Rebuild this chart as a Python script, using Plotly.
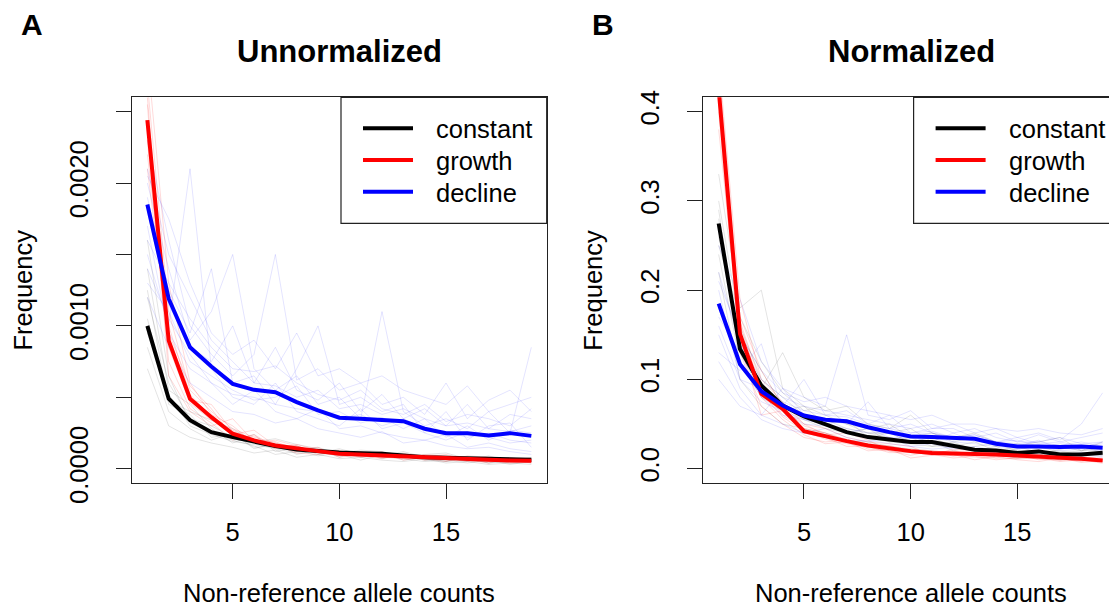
import plotly.graph_objects as go

W, H = 1117, 609
OFF = 8  # the page body adds an 8px margin around the figure
FONT = "Liberation Sans, Arial, Helvetica, sans-serif"

counts = list(range(1, 20))

# ---- panel A: unnormalized, mean curves
raw_constant = [0.00100, 0.00049, 0.00034, 0.000256, 0.000221, 0.000186, 0.000158, 0.000135, 0.000123, 0.000114,
                0.000109, 0.000105, 0.000093, 0.000081, 0.000077, 0.000072, 0.000066, 0.000062, 0.000062]
raw_growth = [0.00244, 0.000897, 0.00049, 0.000361, 0.000245, 0.000198, 0.000163, 0.00014, 0.000123, 0.000105,
              0.000098, 0.000095, 0.00009, 0.00008, 0.000073, 0.00007, 0.000063, 0.000058, 0.000056]
raw_decline = [0.00185, 0.00119, 0.00085, 0.000715, 0.000594, 0.000552, 0.000536, 0.000466, 0.000408, 0.000357,
               0.00035, 0.000343, 0.000333, 0.00028, 0.000249, 0.000249, 0.000233, 0.000249, 0.00023]

# ---- panel A: individual replicates (faint)
raw_constant_reps = [
    [0.00120, 0.00060, 0.00035, 0.00030, 0.00022, 0.00020, 0.00015, 0.00016, 0.00010, 0.00012, 0.00009, 0.00011, 0.00008, 0.00007, 0.00009, 0.00006, 0.00005, 0.00007, 0.00004],
    [0.00085, 0.00040, 0.00028, 0.00020, 0.00025, 0.00014, 0.00018, 0.00010, 0.00013, 0.00008, 0.00012, 0.00007, 0.00010, 0.00006, 0.00005, 0.00008, 0.00004, 0.00006, 0.00005],
    [0.00140, 0.00055, 0.00045, 0.00028, 0.00018, 0.00024, 0.00012, 0.00015, 0.00011, 0.00014, 0.00010, 0.00009, 0.00012, 0.00008, 0.00007, 0.00006, 0.00009, 0.00005, 0.00008],
    [0.00070, 0.00030, 0.00022, 0.00018, 0.00015, 0.00011, 0.00013, 0.00008, 0.00010, 0.00007, 0.00008, 0.00006, 0.00005, 0.00007, 0.00004, 0.00005, 0.00003, 0.00004, 0.00003],
    [0.00105, 0.00048, 0.00040, 0.00034, 0.00028, 0.00019, 0.00021, 0.00017, 0.00014, 0.00011, 0.00013, 0.00012, 0.00009, 0.00010, 0.00011, 0.00007, 0.00008, 0.00006, 0.00007],
    [0.00160, 0.00065, 0.00032, 0.00025, 0.00020, 0.00016, 0.00010, 0.00012, 0.00015, 0.00010, 0.00006, 0.00010, 0.00007, 0.00005, 0.00006, 0.00004, 0.00006, 0.00003, 0.00005],
    [0.00095, 0.00052, 0.00030, 0.00024, 0.00019, 0.00017, 0.00014, 0.00011, 0.00012, 0.00009, 0.00010, 0.00008, 0.00009, 0.00006, 0.00007, 0.00005, 0.00006, 0.00004, 0.00005],
    [0.00125, 0.00045, 0.00038, 0.00022, 0.00024, 0.00015, 0.00016, 0.00013, 0.00009, 0.00011, 0.00008, 0.00010, 0.00006, 0.00008, 0.00005, 0.00007, 0.00004, 0.00005, 0.00006],
]
raw_growth_reps = [
    [0.00270, 0.00110, 0.00055, 0.00040, 0.00028, 0.00022, 0.00018, 0.00015, 0.00012, 0.00011, 0.00010, 0.00009, 0.00010, 0.00008, 0.00007, 0.00006, 0.00007, 0.00005, 0.00006],
    [0.00230, 0.00075, 0.00042, 0.00032, 0.00020, 0.00024, 0.00015, 0.00012, 0.00014, 0.00009, 0.00011, 0.00008, 0.00007, 0.00009, 0.00006, 0.00008, 0.00005, 0.00006, 0.00004],
    [0.00290, 0.00130, 0.00060, 0.00038, 0.00030, 0.00018, 0.00020, 0.00016, 0.00011, 0.00013, 0.00008, 0.00010, 0.00009, 0.00006, 0.00008, 0.00005, 0.00006, 0.00004, 0.00005],
    [0.00210, 0.00090, 0.00048, 0.00045, 0.00026, 0.00021, 0.00014, 0.00017, 0.00013, 0.00010, 0.00012, 0.00011, 0.00008, 0.00010, 0.00009, 0.00007, 0.00006, 0.00007, 0.00006],
    [0.00255, 0.00065, 0.00040, 0.00030, 0.00035, 0.00019, 0.00017, 0.00011, 0.00010, 0.00012, 0.00009, 0.00007, 0.00011, 0.00007, 0.00005, 0.00009, 0.00008, 0.00005, 0.00007],
    [0.00240, 0.00100, 0.00052, 0.00036, 0.00024, 0.00027, 0.00016, 0.00014, 0.00015, 0.00008, 0.00010, 0.00012, 0.00006, 0.00008, 0.00010, 0.00006, 0.00004, 0.00008, 0.00005],
    [0.00260, 0.00085, 0.00046, 0.00034, 0.00027, 0.00020, 0.00019, 0.00013, 0.00012, 0.00011, 0.00009, 0.00010, 0.00008, 0.00007, 0.00008, 0.00006, 0.00007, 0.00006, 0.00005],
    [0.00220, 0.00095, 0.00058, 0.00042, 0.00022, 0.00023, 0.00015, 0.00016, 0.00011, 0.00010, 0.00011, 0.00008, 0.00009, 0.00008, 0.00006, 0.00007, 0.00005, 0.00006, 0.00005],
]
raw_decline_reps = [
    [0.00210, 0.00150, 0.00120, 0.00090, 0.00075, 0.00060, 0.00085, 0.00055, 0.00048, 0.00060, 0.00040, 0.00052, 0.00035, 0.00042, 0.00030, 0.00045, 0.00028, 0.00038, 0.00035],
    [0.00150, 0.00100, 0.00210, 0.00070, 0.00050, 0.00045, 0.00060, 0.00040, 0.00035, 0.00030, 0.00042, 0.00028, 0.00032, 0.00025, 0.00020, 0.00026, 0.00022, 0.00018, 0.00020],
    [0.00200, 0.00140, 0.00090, 0.00110, 0.00150, 0.00070, 0.00055, 0.00065, 0.00045, 0.00050, 0.00035, 0.00110, 0.00040, 0.00030, 0.00035, 0.00028, 0.00040, 0.00025, 0.00085],
    [0.00170, 0.00095, 0.00070, 0.00060, 0.00045, 0.00055, 0.00040, 0.00035, 0.00042, 0.00028, 0.00030, 0.00025, 0.00022, 0.00020, 0.00024, 0.00015, 0.00018, 0.00014, 0.00012],
    [0.00230, 0.00160, 0.00100, 0.00080, 0.00065, 0.00080, 0.00150, 0.00062, 0.00070, 0.00055, 0.00060, 0.00045, 0.00050, 0.00038, 0.00060, 0.00035, 0.00048, 0.00055, 0.00040],
    [0.00130, 0.00110, 0.00075, 0.00065, 0.00055, 0.00048, 0.00050, 0.00058, 0.00038, 0.00040, 0.00032, 0.00036, 0.00028, 0.00035, 0.00022, 0.00030, 0.00020, 0.00027, 0.00025],
    [0.00190, 0.00125, 0.00095, 0.00140, 0.00060, 0.00065, 0.00045, 0.00070, 0.00100, 0.00045, 0.00050, 0.00040, 0.00045, 0.00025, 0.00040, 0.00020, 0.00030, 0.00032, 0.00015],
    [0.00160, 0.00130, 0.00105, 0.00085, 0.00070, 0.00068, 0.00072, 0.00060, 0.00052, 0.00048, 0.00055, 0.00042, 0.00038, 0.00045, 0.00033, 0.00038, 0.00035, 0.00030, 0.00042],
    [0.00120, 0.00085, 0.00060, 0.00050, 0.00040, 0.00038, 0.00032, 0.00035, 0.00028, 0.00025, 0.00022, 0.00026, 0.00018, 0.00020, 0.00016, 0.00014, 0.00015, 0.00012, 0.00010],
    [0.00205, 0.00175, 0.00130, 0.00095, 0.00080, 0.00090, 0.00070, 0.00095, 0.00065, 0.00070, 0.00060, 0.00065, 0.00055, 0.00050, 0.00045, 0.00058, 0.00040, 0.00045, 0.00050],
    [0.00180, 0.00115, 0.00085, 0.00075, 0.00100, 0.00060, 0.00058, 0.00050, 0.00055, 0.00042, 0.00045, 0.00038, 0.00042, 0.00035, 0.00030, 0.00032, 0.00028, 0.00026, 0.00030],
    [0.00140, 0.00105, 0.00080, 0.00060, 0.00052, 0.00050, 0.00045, 0.00042, 0.00040, 0.00035, 0.00038, 0.00030, 0.00035, 0.00028, 0.00026, 0.00022, 0.00025, 0.00020, 0.00018],
]

# ---- panel B: normalized, mean curves
norm_constant = [0.2747, 0.134, 0.0932, 0.0708, 0.0585, 0.0503, 0.041, 0.0354, 0.0324, 0.0298,
                 0.0298, 0.026, 0.0212, 0.0205, 0.0175, 0.0194, 0.016, 0.016, 0.0179]
norm_growth = [0.425, 0.151, 0.0839, 0.0671, 0.042, 0.0361, 0.0309, 0.026, 0.0224, 0.0197,
               0.0175, 0.017, 0.0175, 0.016, 0.0149, 0.014, 0.0123, 0.0112, 0.0093]
norm_decline = [0.185, 0.117, 0.0868, 0.0708, 0.0596, 0.0548, 0.0532, 0.0465, 0.041, 0.0361,
                0.0354, 0.0346, 0.0336, 0.028, 0.025, 0.025, 0.0242, 0.025, 0.0235]

norm_constant_reps = [
    [0.30, 0.16, 0.10, 0.08, 0.06, 0.055, 0.045, 0.04, 0.035, 0.03, 0.032, 0.028, 0.022, 0.02, 0.025, 0.018, 0.02, 0.015, 0.02],
    [0.24, 0.12, 0.08, 0.065, 0.07, 0.05, 0.04, 0.045, 0.03, 0.035, 0.025, 0.03, 0.02, 0.025, 0.015, 0.02, 0.012, 0.018, 0.015],
    [0.33, 0.18, 0.20, 0.09, 0.07, 0.06, 0.05, 0.04, 0.04, 0.03, 0.035, 0.025, 0.03, 0.02, 0.022, 0.025, 0.018, 0.02, 0.03],
    [0.22, 0.10, 0.07, 0.05, 0.045, 0.04, 0.032, 0.03, 0.025, 0.022, 0.02, 0.018, 0.015, 0.015, 0.012, 0.014, 0.01, 0.012, 0.01],
    [0.28, 0.14, 0.09, 0.13, 0.08, 0.065, 0.07, 0.05, 0.045, 0.06, 0.04, 0.035, 0.04, 0.03, 0.025, 0.03, 0.035, 0.02, 0.025],
    [0.26, 0.15, 0.11, 0.07, 0.06, 0.05, 0.055, 0.035, 0.04, 0.045, 0.03, 0.02, 0.025, 0.028, 0.02, 0.015, 0.022, 0.025, 0.018],
    [0.29, 0.13, 0.085, 0.07, 0.055, 0.045, 0.04, 0.035, 0.03, 0.028, 0.025, 0.026, 0.02, 0.018, 0.02, 0.016, 0.015, 0.017, 0.014],
    [0.25, 0.17, 0.12, 0.085, 0.065, 0.07, 0.05, 0.045, 0.05, 0.035, 0.04, 0.03, 0.035, 0.025, 0.028, 0.022, 0.025, 0.02, 0.022],
]
norm_growth_reps = [
    [0.44, 0.16, 0.09, 0.06, 0.045, 0.04, 0.03, 0.028, 0.025, 0.02, 0.018, 0.02, 0.015, 0.016, 0.012, 0.015, 0.01, 0.012, 0.01],
    [0.40, 0.13, 0.07, 0.05, 0.035, 0.03, 0.032, 0.022, 0.02, 0.015, 0.02, 0.014, 0.018, 0.012, 0.016, 0.01, 0.012, 0.008, 0.011],
    [0.46, 0.19, 0.10, 0.075, 0.05, 0.045, 0.035, 0.03, 0.028, 0.025, 0.015, 0.022, 0.02, 0.018, 0.014, 0.016, 0.015, 0.01, 0.008],
    [0.42, 0.14, 0.06, 0.065, 0.04, 0.035, 0.025, 0.025, 0.018, 0.018, 0.016, 0.012, 0.014, 0.01, 0.012, 0.012, 0.008, 0.01, 0.006],
    [0.38, 0.15, 0.08, 0.055, 0.038, 0.028, 0.03, 0.02, 0.022, 0.012, 0.015, 0.016, 0.01, 0.014, 0.01, 0.008, 0.012, 0.007, 0.009],
    [0.45, 0.17, 0.11, 0.07, 0.05, 0.038, 0.04, 0.032, 0.02, 0.022, 0.02, 0.018, 0.016, 0.02, 0.018, 0.013, 0.01, 0.013, 0.012],
    [0.43, 0.145, 0.085, 0.058, 0.042, 0.033, 0.028, 0.024, 0.02, 0.018, 0.016, 0.015, 0.013, 0.012, 0.011, 0.012, 0.009, 0.01, 0.008],
    [0.41, 0.165, 0.095, 0.068, 0.048, 0.04, 0.033, 0.027, 0.026, 0.02, 0.019, 0.017, 0.017, 0.014, 0.013, 0.011, 0.011, 0.009, 0.01],
]
norm_decline_reps = [
    [0.22, 0.14, 0.10, 0.08, 0.07, 0.065, 0.06, 0.055, 0.05, 0.045, 0.05, 0.04, 0.045, 0.035, 0.03, 0.038, 0.03, 0.035, 0.04],
    [0.15, 0.09, 0.06, 0.05, 0.04, 0.045, 0.035, 0.03, 0.035, 0.025, 0.028, 0.022, 0.025, 0.02, 0.018, 0.02, 0.015, 0.018, 0.015],
    [0.25, 0.19, 0.12, 0.09, 0.08, 0.07, 0.15, 0.06, 0.055, 0.065, 0.045, 0.05, 0.04, 0.045, 0.035, 0.04, 0.032, 0.05, 0.085],
    [0.18, 0.12, 0.08, 0.06, 0.055, 0.05, 0.045, 0.04, 0.04, 0.03, 0.035, 0.03, 0.028, 0.025, 0.022, 0.025, 0.02, 0.022, 0.02],
    [0.10, 0.07, 0.06, 0.09, 0.06, 0.055, 0.05, 0.075, 0.045, 0.05, 0.04, 0.035, 0.038, 0.03, 0.035, 0.028, 0.03, 0.025, 0.028],
    [0.20, 0.10, 0.09, 0.07, 0.10, 0.06, 0.065, 0.05, 0.06, 0.04, 0.045, 0.045, 0.035, 0.04, 0.03, 0.03, 0.035, 0.028, 0.03],
    [0.13, 0.11, 0.14, 0.065, 0.05, 0.048, 0.04, 0.045, 0.035, 0.035, 0.03, 0.04, 0.03, 0.03, 0.025, 0.032, 0.022, 0.025, 0.022],
    [0.17, 0.13, 0.09, 0.075, 0.065, 0.06, 0.058, 0.05, 0.045, 0.04, 0.042, 0.035, 0.038, 0.03, 0.028, 0.03, 0.026, 0.03, 0.025],
    [0.12, 0.08, 0.055, 0.045, 0.04, 0.035, 0.03, 0.032, 0.028, 0.025, 0.022, 0.024, 0.02, 0.018, 0.016, 0.018, 0.014, 0.016, 0.013],
    [0.21, 0.15, 0.11, 0.085, 0.075, 0.08, 0.07, 0.065, 0.06, 0.055, 0.06, 0.05, 0.05, 0.045, 0.042, 0.045, 0.04, 0.038, 0.045],
    [0.16, 0.10, 0.075, 0.065, 0.055, 0.05, 0.055, 0.045, 0.04, 0.038, 0.04, 0.032, 0.035, 0.03, 0.032, 0.025, 0.028, 0.024, 0.03],
]

group_names = ["constant", "growth", "decline"]
group_colors = ["black", "red", "blue"]
faint_colors = ["rgba(0,0,0,0.11)", "rgba(255,0,0,0.15)", "rgba(0,0,255,0.11)"]

raw_x_ticks = [5, 10, 15]
raw_y_ticks = [0, 0.0005, 0.0010, 0.0015, 0.0020, 0.0025]
raw_y_labels = ["0.0000", "", "0.0010", "", "0.0020", ""]
norm_y_ticks = [0.0, 0.1, 0.2, 0.3, 0.4]
norm_y_labels = ["0.0", "0.1", "0.2", "0.3", "0.4"]


# page pixel -> paper fraction
def px(x):
    return (x - OFF) / W


def py(y):
    return 1 - (y - OFF) / H


fig = go.Figure()

panels = [
    ("x", "y", [raw_constant_reps, raw_growth_reps, raw_decline_reps], [raw_constant, raw_growth, raw_decline]),
    ("x2", "y2", [norm_constant_reps, norm_growth_reps, norm_decline_reps], [norm_constant, norm_growth, norm_decline]),
]
for xa, ya, reps, means in panels:
    for rr, col in zip(reps, faint_colors):
        for r in rr:
            fig.add_trace(go.Scatter(x=counts, y=r, mode="lines", xaxis=xa, yaxis=ya,
                                     line=dict(color=col, width=1), showlegend=False, hoverinfo="skip"))
    for m, col, nm in zip(means, group_colors, group_names):
        fig.add_trace(go.Scatter(x=counts, y=m, mode="lines", xaxis=xa, yaxis=ya, name=nm,
                                 line=dict(color=col, width=4), showlegend=False))

axis_font = dict(family=FONT, size=25.5, color="black")
common_x = dict(range=[0.28, 19.72], tickvals=raw_x_ticks, ticks="outside", ticklen=15, tickwidth=1.2,
                tickcolor="#222", showline=True, linecolor="#222", linewidth=1.2, mirror=True,
                showgrid=False, zeroline=False, tickfont=axis_font, ticklabelstandoff=11,
                automargin=False)
common_y = dict(ticks="outside", ticklen=15, tickwidth=1.2, tickcolor="#222", showline=True,
                linecolor="#222", linewidth=1.2, mirror=True, showgrid=False, zeroline=False,
                tickfont=axis_font, tickangle=-90, ticklabelstandoff=18, automargin=False)

ydom = [py(483), py(97.3)]
fig.update_layout(
    width=W, height=H, margin=dict(l=0, r=0, t=0, b=0, autoexpand=False),
    paper_bgcolor="white", plot_bgcolor="white", showlegend=False,
    font=dict(family=FONT, color="black"),
    xaxis=dict(domain=[px(132), px(546.7)], anchor="y", **common_x),
    yaxis=dict(domain=ydom, anchor="x", range=[-0.0001, 0.0026], tickvals=raw_y_ticks,
               ticktext=raw_y_labels, **common_y),
    xaxis2=dict(domain=[px(703.3), px(1118)], anchor="y2", **common_x),
    yaxis2=dict(domain=ydom, anchor="x2", range=[-0.016, 0.416], tickvals=norm_y_ticks,
                ticktext=norm_y_labels, **common_y),
)

ann = []
shapes = []
# panel letters, titles, axis titles
for letter, lx, title, cx, fx in [("A", 31.5, "Unnormalized", 339.3, 22.5),
                                  ("B", 602.5, "Normalized", 911.0, 592.7)]:
    ann.append(dict(text="<b>%s</b>" % letter, x=px(lx), y=py(25), xref="paper", yref="paper",
                    showarrow=False, xanchor="center", yanchor="middle",
                    font=dict(family=FONT, size=30, color="black")))
    ann.append(dict(text="<b>%s</b>" % title, x=px(cx), y=py(51), xref="paper", yref="paper",
                    showarrow=False, xanchor="center", yanchor="middle",
                    font=dict(family=FONT, size=31, color="black")))
    ann.append(dict(text="Non-reference allele counts", x=px(cx), y=py(593), xref="paper", yref="paper",
                    showarrow=False, xanchor="center", yanchor="middle", font=axis_font))
    ann.append(dict(text="Frequency", x=px(fx), y=py(290), xref="paper", yref="paper", textangle=-90,
                    showarrow=False, xanchor="center", yanchor="middle", font=axis_font))

# legends drawn inside each panel's top-right corner
for bx0, bx1 in [(341, 546.7), (913.6, 1118)]:
    shapes.append(dict(type="rect", xref="paper", yref="paper", x0=px(bx0), x1=px(bx1),
                       y0=py(223.3), y1=py(97.3), line=dict(color="#222", width=1.2),
                       fillcolor="white", layer="above"))
    for i, (nm, col) in enumerate(zip(group_names, group_colors)):
        ry = 128.3 + i * 31.7
        shapes.append(dict(type="line", xref="paper", yref="paper", x0=px(bx0 + 22), x1=px(bx0 + 72),
                           y0=py(ry), y1=py(ry), line=dict(color=col, width=4), layer="above"))
        ann.append(dict(text=nm, x=px(bx0 + 93), y=py(ry + 1), xref="paper", yref="paper",
                        showarrow=False, xanchor="left", yanchor="middle", font=axis_font))

fig.update_layout(annotations=ann, shapes=shapes)

fig.write_html("out.html")
